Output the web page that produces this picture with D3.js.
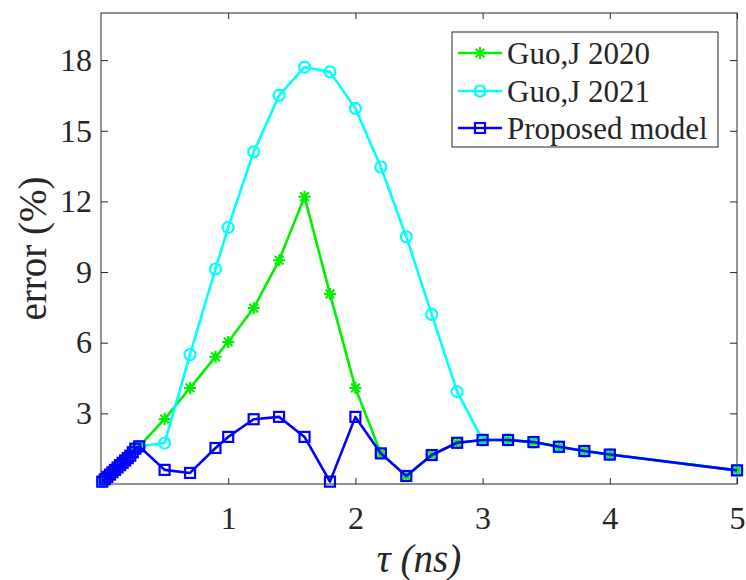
<!DOCTYPE html>
<html>
<head>
<meta charset="utf-8">
<script src="https://cdn.jsdelivr.net/npm/d3@7"></script>
<style>
  body { margin: 0; background: #fff; }
  text { font-family: "Liberation Serif", "Times New Roman", serif; fill: #262626; }
</style>
</head>
<body>
<svg id="chart"></svg>
<script>
// tau (ns) values
const tauEarly = [0.01, 0.03, 0.05, 0.07, 0.09, 0.11, 0.13, 0.15, 0.17, 0.19, 0.21, 0.23, 0.25, 0.27, 0.3];
const errEarly = [0.1, 0.2, 0.3, 0.4, 0.5, 0.6, 0.7, 0.8, 0.9, 1.0, 1.1, 1.2, 1.35, 1.5, 1.6];

const tauMid = [0.5, 0.7, 0.9, 1.0, 1.2, 1.4, 1.6, 1.8, 2.0, 2.2, 2.4, 2.6, 2.8, 3.0, 3.2, 3.4, 3.6, 3.8, 4.0, 5.0];
const guo2020Mid = [2.76, 4.08, 5.4, 6.03, 7.47, 9.5, 12.2, 8.07, 4.08, 1.3, 0.34, 1.23, 1.75, 1.87, 1.87, 1.78, 1.58, 1.4, 1.25, 0.58];
const guo2021Mid = [1.74, 5.5, 9.13, 10.9, 14.1, 16.5, 17.7, 17.5, 15.95, 13.46, 10.5, 7.2, 3.92, 1.87, 1.87, 1.78, 1.58, 1.4, 1.25, 0.58];
const proposedMid = [0.6, 0.47, 1.53, 2.0, 2.75, 2.85, 2.0, 0.1, 2.85, 1.3, 0.34, 1.23, 1.75, 1.87, 1.87, 1.78, 1.58, 1.4, 1.25, 0.58];

const xTicks = [1, 2, 3, 4, 5];
const yTicks = [3, 6, 9, 12, 15, 18];

const seriesNames = ["Guo,J 2020", "Guo,J 2021", "Proposed model"];
const seriesColors = ["#00f000", "#00ffff", "#0000ff"];
const seriesMarkers = ["star", "circle", "square"];

const width = 746, height = 580;
const svg = d3.select("#chart").attr("width", width).attr("height", height);

const x = d3.scaleLinear().domain([0, 5]).range([101, 737]);
const y = d3.scaleLinear().domain([0, 20]).range([484, 13]);

const tau = tauEarly.concat(tauMid);
const seriesValues = [
  errEarly.concat(guo2020Mid),
  errEarly.concat(guo2021Mid),
  errEarly.concat(proposedMid)
];

// axes (MATLAB style, ticks inside, box on)
const axisColor = "#262626";
const xAxis = svg.append("g").attr("transform", `translate(0,${y(0)})`)
  .call(d3.axisBottom(x).tickValues(xTicks).tickSize(-6).tickPadding(22).tickFormat(d3.format("d")));
const xTop = svg.append("g").attr("transform", `translate(0,${y(20)})`)
  .call(d3.axisTop(x).tickValues(xTicks).tickSize(-6).tickFormat(""));
const yAxis = svg.append("g").attr("transform", `translate(${x(0)},0)`)
  .call(d3.axisLeft(y).tickValues(yTicks).tickSize(-7).tickPadding(9).tickFormat(d3.format("d")));
const yRight = svg.append("g").attr("transform", `translate(${x(5)},0)`)
  .call(d3.axisRight(y).tickValues(yTicks).tickSize(-7).tickFormat(""));

[xAxis, xTop, yAxis, yRight].forEach(g => {
  g.select(".domain").remove();
  g.selectAll("line").attr("stroke", axisColor);
  g.selectAll("text").attr("font-size", 32).attr("fill", axisColor)
    .attr("font-family", "Liberation Serif, Times New Roman, serif");
});

svg.append("rect")
  .attr("x", x(0)).attr("y", y(20))
  .attr("width", x(5) - x(0)).attr("height", y(0) - y(20))
  .attr("fill", "none").attr("stroke", axisColor).attr("stroke-width", 1);

// axis labels
svg.append("text")
  .attr("transform", `translate(46,${(y(0) + y(20)) / 2}) rotate(-90)`)
  .attr("text-anchor", "middle")
  .attr("font-size", 39)
  .text("error (%)");

svg.append("text")
  .attr("x", (x(0) + x(5)) / 2).attr("y", 572)
  .attr("text-anchor", "middle")
  .attr("font-size", 39)
  .attr("font-style", "italic")
  .text("τ (ns)");

function drawMarker(g, type, color, cx, cy) {
  if (type === "square") {
    g.append("rect").attr("x", cx - 5).attr("y", cy - 5)
      .attr("width", 10).attr("height", 10)
      .attr("fill", "none").attr("stroke", color).attr("stroke-width", 2.2);
  } else if (type === "circle") {
    g.append("circle").attr("cx", cx).attr("cy", cy).attr("r", 5.5)
      .attr("fill", "none").attr("stroke", color).attr("stroke-width", 2.2);
  } else {
    const r = 6, d = r * 0.72;
    const segs = [[-r, 0, r, 0], [0, -r, 0, r], [-d, -d, d, d], [-d, d, d, -d]];
    segs.forEach(s => g.append("line")
      .attr("x1", cx + s[0]).attr("y1", cy + s[1])
      .attr("x2", cx + s[2]).attr("y2", cy + s[3])
      .attr("stroke", color).attr("stroke-width", 2.2));
  }
}

const line = d3.line().x(d => x(d[0])).y(d => y(d[1]));

seriesValues.forEach((vals, i) => {
  const pts = tau.map((t, j) => [t, vals[j]]);
  const g = svg.append("g");
  g.append("path").datum(pts)
    .attr("d", line)
    .attr("fill", "none")
    .attr("stroke", seriesColors[i])
    .attr("stroke-width", 2.6)
    .attr("stroke-linejoin", "round");
  pts.forEach(p => drawMarker(g, seriesMarkers[i], seriesColors[i], x(p[0]), y(p[1])));
});

// legend
const legend = svg.append("g");
legend.append("rect")
  .attr("x", 452).attr("y", 32).attr("width", 266).attr("height", 115)
  .attr("fill", "#fff").attr("stroke", axisColor).attr("stroke-width", 1);
const legendY = [53, 91, 128];
seriesNames.forEach((name, i) => {
  const ly = legendY[i];
  legend.append("line")
    .attr("x1", 458).attr("x2", 502).attr("y1", ly).attr("y2", ly)
    .attr("stroke", seriesColors[i]).attr("stroke-width", 2.6);
  drawMarker(legend, seriesMarkers[i], seriesColors[i], 480, ly);
  legend.append("text")
    .attr("x", 507).attr("y", ly).attr("dy", "0.35em")
    .attr("font-size", 31)
    .text(name);
});
</script>
</body>
</html>
